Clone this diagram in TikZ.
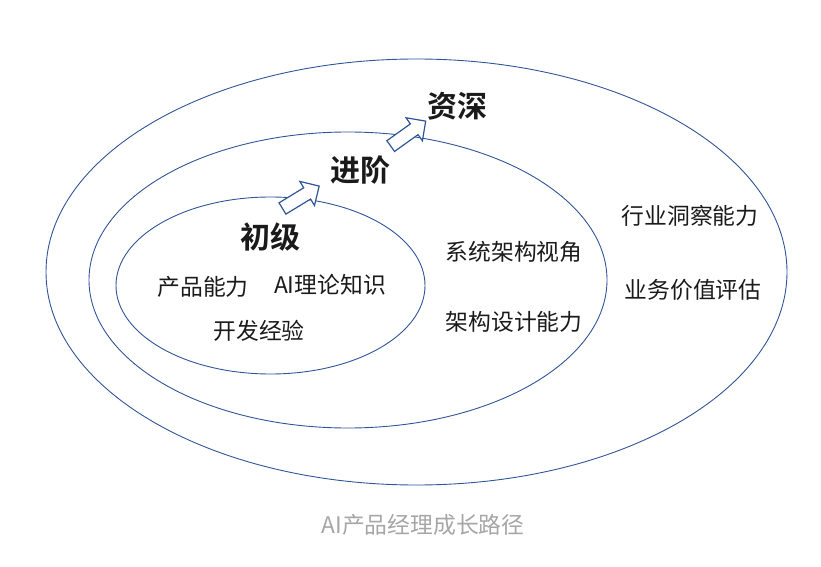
\documentclass[tikz,border=0pt]{standalone}
\usepackage{fontspec}
\setmainfont{Noto Sans CJK SC}[BoldFont={Noto Sans CJK SC Bold}]
\usepackage{tikz}
\usepackage{xcolor}
\usetikzlibrary{shapes.geometric,shapes.arrows}
\definecolor{ringblue}{HTML}{2F5597}
\definecolor{ink}{HTML}{1A1A1A}
\definecolor{capgray}{HTML}{A6A6A6}
\tikzset{
  ring/.style={draw=ringblue,ellipse,line width=0.9pt,inner sep=0pt},
  levelname/.style={font=\fontsize{30bp}{33bp}\selectfont\bfseries,text=ink,inner sep=0pt},
  skill/.style={font=\fontsize{22.8bp}{26bp}\selectfont,text=ink,inner sep=0pt},
  stepup/.style={single arrow,draw=ringblue,fill=white,line width=1.2pt,
                 inner sep=0pt,inner ysep=6bp,minimum height=43bp,
                 single arrow head extend=7.5bp}
}

\begin{document}
\begin{tikzpicture}[x=1bp,y=-1bp]
  \useasboundingbox (0,0) rectangle (821,567);
  % rings
  \node[ring,minimum width=741bp,minimum height=426bp] (outer) at (416.5,272) {};
  \node[ring,minimum width=518bp,minimum height=296bp] (middle) at (348,280) {};
  \node[ring,minimum width=309bp,minimum height=177bp] (inner) at (270.5,285.5) {};

  % level titles
  \node[levelname] (junior) at (270,237) {初级};
  \node[levelname] (mid) at (360,170) {进阶};
  \node[levelname] (senior) at (457,106) {资深};

  % arrows between levels
  \node[stepup,rotate=31.4] (up1) at (298,199) {};
  \node[stepup,rotate=35.5] (up2) at (405.5,135.5) {};

  % skills
  \node[skill] (prod) at (203,287) {产品能力};
  \node[skill] (aith) at (330,285) {AI理论知识};
  \node[skill] (dev) at (259,331) {开发经验};
  \node[skill] (sysview) at (514,252) {系统架构视角};
  \node[skill] (archdes) at (514,322) {架构设计能力};
  \node[skill] (insight) at (690,216) {行业洞察能力};
  \node[skill] (bizval) at (693,290) {业务价值评估};

  \node[skill,text=capgray] (caption) at (423,525) {AI产品经理成长路径};
\end{tikzpicture}
\end{document}
